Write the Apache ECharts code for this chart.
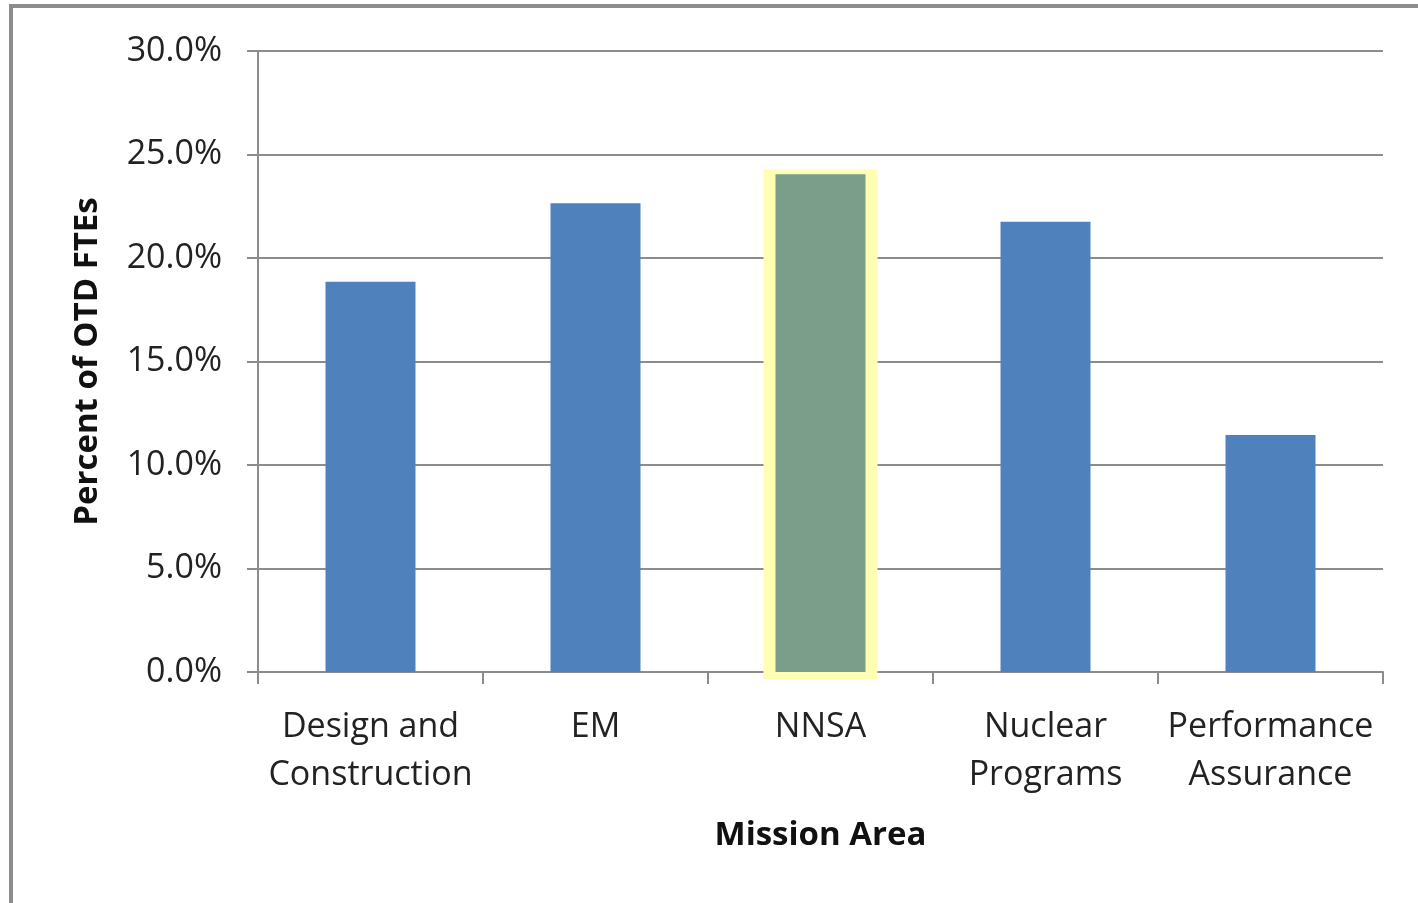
<!DOCTYPE html>
<html>
<head>
<meta charset="utf-8">
<style>
  html, body { margin: 0; padding: 0; background: #fff; }
  #frame { position: absolute; left: 9px; top: 4px; width: 1420px; height: 910px; border: 4px solid #8c8c8c; box-sizing: border-box; }
  #chart { position: absolute; left: 0; top: 0; width: 1418px; height: 903px; }
</style>
<script src="https://cdn.jsdelivr.net/npm/echarts@6/dist/echarts.min.js"></script>
</head>
<body>
<div id="frame"></div>
<div id="chart"></div>
<script>
// Share of OTD full-time equivalents by mission area
const categories = ['Design and\nConstruction', 'EM', 'NNSA', 'Nuclear\nPrograms', 'Performance\nAssurance'];
const shares = [18.85, 22.65, 24.05, 21.75, 11.45];
const highlighted = ['NNSA'];

const blue = '#4f81bd';
const green = '#7a9e8a';
const font = '"Open Sans", "Liberation Sans", sans-serif';

const isHighlighted = i => highlighted.includes(categories[i].replace('\n', ' '));

const chart = echarts.init(document.getElementById('chart'));
chart.setOption({
  backgroundColor: 'transparent',
  animation: false,
  grid: { left: 258, right: 35, top: 51, bottom: 231, containLabel: false },
  xAxis: {
    type: 'category',
    data: categories,
    name: 'Mission Area',
    nameLocation: 'middle',
    nameGap: 147,
    nameTextStyle: { fontFamily: font, fontSize: 33, fontWeight: 'bold', color: '#111' },
    axisLine: { lineStyle: { color: '#8c8c8c', width: 2 } },
    axisTick: { show: true, length: 12, lineStyle: { color: '#8c8c8c', width: 2 } },
    axisLabel: { interval: 0, fontFamily: font, fontSize: 34, color: '#222', margin: 31, lineHeight: 48 }
  },
  yAxis: {
    type: 'value',
    min: 0, max: 30, interval: 5,
    name: 'Percent of OTD FTEs',
    nameLocation: 'middle',
    nameGap: 154,
    nameTextStyle: { fontFamily: font, fontSize: 33, fontWeight: 'bold', color: '#111' },
    axisLine: { show: true, lineStyle: { color: '#8c8c8c', width: 2 } },
    axisTick: { show: true, length: 11, lineStyle: { color: '#8c8c8c', width: 2 } },
    splitLine: { lineStyle: { color: '#8c8c8c', width: 2 } },
    axisLabel: { fontFamily: font, fontSize: 34, color: '#222', margin: 36, formatter: v => v.toFixed(1) + '%' }
  },
  series: [
    {
      // pale yellow halo behind the highlighted mission area
      type: 'custom',
      z: 1,
      data: categories.map((c, i) => [i, isHighlighted(i) ? shares[i] : null]),
      renderItem: (params, api) => {
        const v = api.value(1);
        if (v == null || isNaN(v)) return null;
        const top = api.coord([api.value(0), v]);
        const base = api.coord([api.value(0), 0]);
        const w = api.size([1, 0])[0] * 0.4 + 24;
        return {
          type: 'rect',
          shape: { x: top[0] - w / 2, y: top[1] - 5, width: w, height: base[1] - top[1] + 12 },
          style: { fill: '#ffffb4' }
        };
      }
    },
    {
      type: 'bar',
      z: 2,
      barWidth: '40%',
      data: shares.map((v, i) => ({
        value: v,
        itemStyle: { color: isHighlighted(i) ? green : blue }
      }))
    }
  ]
});
</script>
</body>
</html>
